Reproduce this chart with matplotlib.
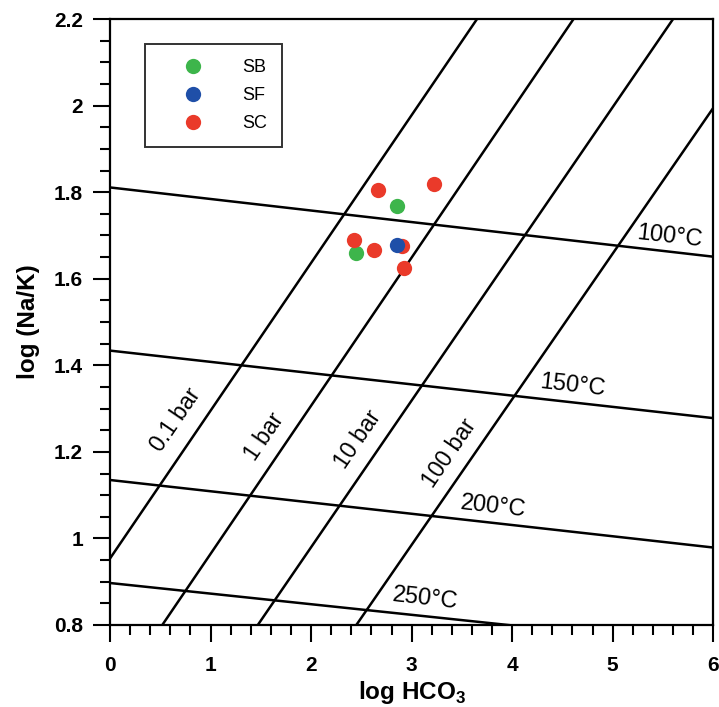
import matplotlib
matplotlib.use('Agg')
import matplotlib.pyplot as plt
from matplotlib.ticker import MultipleLocator

plt.rcParams['font.family'] = ['Liberation Sans', 'DejaVu Sans']
plt.rcParams['mathtext.fontset'] = 'custom'
plt.rcParams['mathtext.bf'] = 'Liberation Sans:bold'
plt.rcParams['mathtext.rm'] = 'Liberation Sans'

# samples: log HCO3, log(Na/K)
sb_x = [2.85, 2.45]
sb_y = [1.767, 1.659]
sf_x = [2.85]
sf_y = [1.678]
sc_x = [2.67, 3.22, 2.43, 2.63, 2.90, 2.92]
sc_y = [1.806, 1.818, 1.690, 1.666, 1.676, 1.624]

# isotherms: value at x=0 and x=6
iso_t_labels = ['100°C', '150°C', '200°C', '250°C']
iso_t_y0 = [1.811, 1.434, 1.135, 0.897]
iso_t_y6 = [1.651, 1.278, 0.979, 0.750]
iso_t_lab_x = [5.57, 4.60, 3.81, 3.14]
iso_t_lab_y = [1.697, 1.352, 1.073, 0.860]

# isobars: x at y=0.8 and x at y=2.2
iso_p_labels = ['0.1 bar', '1 bar', '10 bar', '100 bar']
iso_p_x08 = [-0.45, 0.52, 1.47, 2.45]
iso_p_x22 = [3.65, 4.61, 5.60, 6.61]
iso_p_lab_x = [0.657, 1.54, 2.47, 3.38]
iso_p_lab_y = [1.273, 1.235, 1.229, 1.198]

fig = plt.figure(figsize=(7.19, 7.07), dpi=100)
ax = fig.add_axes([0.153, 0.116, 0.839, 0.857])

for y0, y6 in zip(iso_t_y0, iso_t_y6):
    ax.plot([0, 6], [y0, y6], color='black', lw=1.8)
for xa, xb in zip(iso_p_x08, iso_p_x22):
    ax.plot([xa, xb], [0.8, 2.2], color='black', lw=1.8)

for lab, x, y in zip(iso_t_labels, iso_t_lab_x, iso_t_lab_y):
    ax.text(x, y, lab, fontsize=17, rotation=-6.5, ha='center', va='center')
for lab, x, y in zip(iso_p_labels, iso_p_lab_x, iso_p_lab_y):
    ax.text(x, y, lab, fontsize=16.5, rotation=55.7, ha='center', va='center')

ax.plot(sb_x, sb_y, 'o', color='#3db54b', ms=11, mec='none', label='SB')
ax.plot(sf_x, sf_y, 'o', color='#1f4fa8', ms=11, mec='none', label='SF', zorder=4)
ax.plot(sc_x, sc_y, 'o', color='#ea3a2a', ms=11, mec='none', label='SC', zorder=3)

leg = ax.legend(loc='upper left', bbox_to_anchor=(0.058, 0.959), fontsize=13,
                frameon=True, fancybox=False, edgecolor='black',
                handletextpad=0.9, labelspacing=0.6, borderpad=0.85,
                handlelength=3.63, borderaxespad=0)
leg.get_frame().set_linewidth(1.4)

ax.set_xlim(0, 6)
ax.set_ylim(0.8, 2.2)
ax.xaxis.set_major_locator(MultipleLocator(1))
ax.xaxis.set_minor_locator(MultipleLocator(0.2))
ax.yaxis.set_major_locator(MultipleLocator(0.2))
ax.yaxis.set_minor_locator(MultipleLocator(0.05))
ax.yaxis.set_major_formatter(plt.FuncFormatter(lambda v, p: f'{v:g}'))
ax.tick_params(which='major', direction='out', length=12.5, width=1.5, labelsize=15)
ax.tick_params(which='minor', direction='out', length=7, width=1.5)
ax.tick_params(axis='x', pad=10)
ax.tick_params(axis='y', pad=7)
for lbl in ax.get_xticklabels() + ax.get_yticklabels():
    lbl.set_fontweight('bold')
for s in ax.spines.values():
    s.set_linewidth(1.6)

ax.set_xlabel(r'log HCO$_\mathbf{3}$', fontsize=17.5, fontweight='bold', labelpad=3)
ax.set_ylabel('log (Na/K)', fontsize=17.5, fontweight='bold', labelpad=10)

fig.savefig('out.png', dpi=100)
